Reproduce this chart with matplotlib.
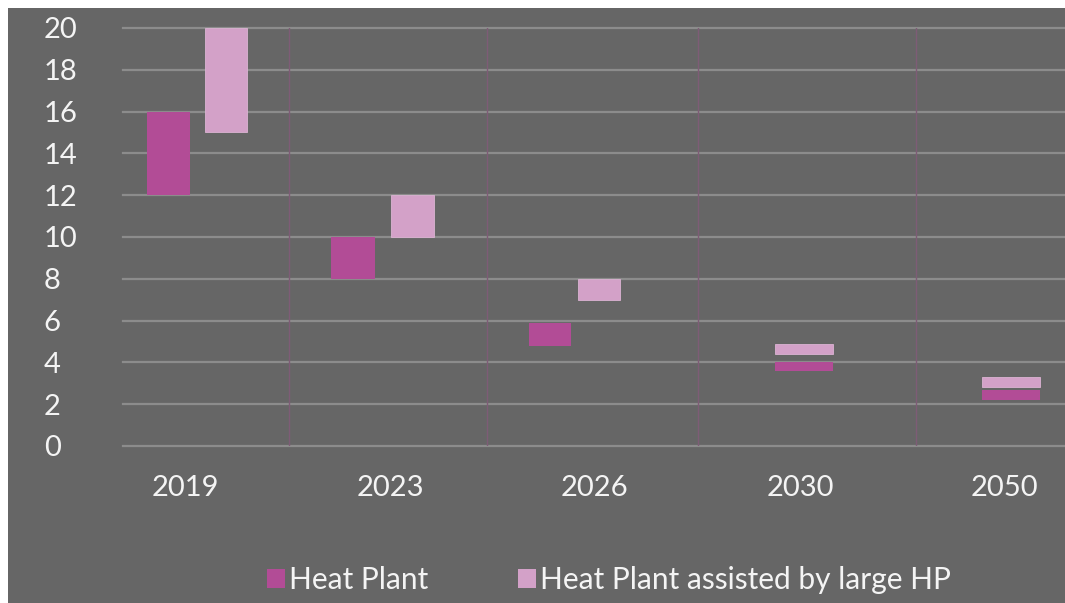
import matplotlib.pyplot as plt
from matplotlib.patches import Patch, Rectangle

# data
years = ['2019', '2023', '2026', '2030', '2050']
plant_low = [12.0, 8.0, 4.8, 3.6, 2.2]
plant_high = [16.0, 10.0, 5.9, 4.0, 2.7]
assisted_low = [15.0, 10.0, 7.0, 4.4, 2.8]
assisted_high = [20.0, 12.0, 8.0, 4.9, 3.3]
series_names = ['Heat Plant', 'Heat Plant assisted by large HP']
y_ticks = [0, 2, 4, 6, 8, 10, 12, 14, 16, 18, 20]

# layout (category units)
plant_offset = [-0.08, -0.18, -0.22, 0.02, 0.03]
assisted_offset = [0.20, 0.11, 0.02, 0.02, 0.03]
bar_width = [0.205, 0.21, 0.205, 0.28, 0.28]
separators = [0.507, 1.473, 2.502, 3.566]

BG = '#666666'
DARK = '#b24c96'
LIGHT = '#d3a1c8'
TXT = '#f4f4f4'

plt.rcParams['font.family'] = ['Lato', 'DejaVu Sans']

fig = plt.figure(figsize=(10.65, 6.03), dpi=100, facecolor='white')
fig.patches.append(Rectangle((8 / 1065, 0), 1, 1 - 8 / 603, transform=fig.transFigure,
                             facecolor=BG, edgecolor='none', zorder=-10))

ax = fig.add_axes([123 / 1065, 1 - 446 / 603, 1 - 123 / 1065, (446 - 28) / 603])
ax.set_facecolor('none')
for s in ax.spines.values():
    s.set_visible(False)

ax.set_xlim(-0.302, 4.293)
ax.set_ylim(0, 20)

for v in y_ticks:
    ax.axhline(v, color='#8c8c8c', lw=1.6, zorder=1, clip_on=False)
for sx in separators:
    ax.axvline(sx, color='#7e5c76', lw=1, zorder=1)

idx = range(len(years))
ax.bar([i + o for i, o in zip(idx, plant_offset)],
       [h - l for h, l in zip(plant_high, plant_low)],
       bottom=plant_low, width=bar_width, color=DARK, zorder=3)
ax.bar([i + o for i, o in zip(idx, assisted_offset)],
       [h - l for h, l in zip(assisted_high, assisted_low)],
       bottom=assisted_low, width=bar_width, color=LIGHT, edgecolor='#dcb3d3',
       linewidth=0.6, zorder=3)

ax.set_yticks(y_ticks)
ax.set_yticklabels([str(v) for v in y_ticks], ha='left')
ax.tick_params(axis='y', length=0, pad=57, labelsize=21, labelcolor=TXT)
ax.set_xticks(list(idx))
ax.set_xticklabels(years)
ax.tick_params(axis='x', length=0, pad=21, labelsize=21, labelcolor=TXT)

handles = [Patch(facecolor=DARK), Patch(facecolor=LIGHT)]
leg = fig.legend(handles, series_names, loc='center', bbox_to_anchor=(609 / 1065, 1 - 580 / 603),
                 ncol=2, frameon=False, fontsize=21.5, handlelength=0.6, handleheight=0.6,
                 handletextpad=0.15, columnspacing=3.0, borderaxespad=0)
for t in leg.get_texts():
    t.set_color(TXT)

fig.savefig('out.png', dpi=100, facecolor='white')
